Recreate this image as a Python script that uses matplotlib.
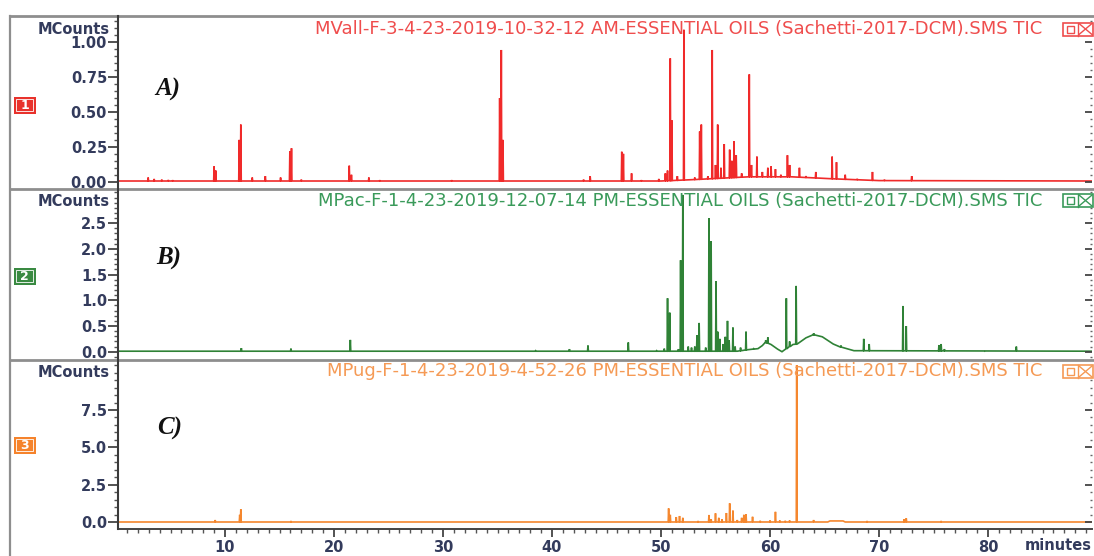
import numpy as np
import matplotlib
matplotlib.use("Agg")
import matplotlib.pyplot as plt
from matplotlib.ticker import MultipleLocator, FixedLocator, FormatStrFormatter
from matplotlib.patches import Rectangle
from matplotlib.lines import Line2D

# ---------------- data ----------------
titles = [
    "MVall-F-3-4-23-2019-10-32-12 AM-ESSENTIAL OILS (Sachetti-2017-DCM).SMS TIC",
    "MPac-F-1-4-23-2019-12-07-14 PM-ESSENTIAL OILS (Sachetti-2017-DCM).SMS TIC",
    "MPug-F-1-4-23-2019-4-52-26 PM-ESSENTIAL OILS (Sachetti-2017-DCM).SMS TIC",
]
panel_letters = ["A)", "B)", "C)"]
panel_numbers = ["1", "2", "3"]
x_ticks = [10, 20, 30, 40, 50, 60, 70, 80]

# Panel A: peak retention times (min) and apex intensities (MCounts)
rt_a = [2.95, 3.5, 4.2, 4.8, 5.2, 9.0, 9.15, 11.3, 11.45, 12.5, 13.7, 15.1, 15.95, 16.1,
        17.0, 21.4, 21.6, 23.2, 24.2, 30.8, 35.2, 35.35, 35.5, 42.9, 43.5, 46.4, 46.55,
        47.3, 48.2, 49.8, 50.4, 50.6, 50.85, 51.0, 51.5, 52.1, 53.1, 53.55, 53.7, 54.3,
        54.7, 55.0, 55.2, 55.5, 55.8, 56.3, 56.5, 56.7, 56.9, 57.4, 58.1, 58.3, 58.8,
        59.3, 59.8, 60.1, 60.5, 61.0, 61.6, 61.8, 62.7, 63.3, 64.2, 65.7, 66.1, 66.9,
        68.0, 69.4, 70.5, 73.0]
h_a = [0.03, 0.02, 0.015, 0.012, 0.01, 0.11, 0.08, 0.30, 0.41, 0.03, 0.04, 0.03, 0.22, 0.24,
       0.015, 0.115, 0.05, 0.03, 0.01, 0.01, 0.60, 0.945, 0.30, 0.015, 0.04, 0.215, 0.20,
       0.06, 0.01, 0.02, 0.06, 0.08, 0.885, 0.44, 0.04, 1.09, 0.03, 0.36, 0.41, 0.04,
       0.945, 0.12, 0.41, 0.10, 0.27, 0.23, 0.15, 0.29, 0.19, 0.06, 0.77, 0.12, 0.18,
       0.07, 0.10, 0.11, 0.09, 0.05, 0.19, 0.12, 0.10, 0.04, 0.07, 0.18, 0.14, 0.05,
       0.02, 0.07, 0.015, 0.04]
base_t_a = [0.0, 50.0, 53.0, 58.0, 62.0, 66.0, 70.0, 89.6]
base_v_a = [0.005, 0.005, 0.015, 0.035, 0.035, 0.02, 0.008, 0.005]

# Panel B
rt_b = [11.5, 16.05, 21.5, 30.6, 38.5, 41.6, 43.3, 46.1, 47.0, 48.1, 49.6, 50.3, 50.6, 50.8,
        51.6, 51.8, 52.0, 52.5, 52.8, 53.1, 53.3, 53.5, 54.1, 54.4, 54.6, 55.05, 55.2,
        55.4, 55.7, 55.9, 56.1, 56.25, 56.6, 56.8, 57.3, 57.8, 58.5, 59.6, 59.8, 61.5,
        61.8, 62.4, 64.0, 66.5, 68.6, 69.1, 72.2, 72.5, 75.5, 75.7, 76.0, 79.7, 82.6]
h_b = [0.07, 0.06, 0.23, 0.01, 0.02, 0.05, 0.12, 0.01, 0.18, 0.01, 0.02, 0.06, 1.04, 0.76,
       0.05, 1.78, 3.05, 0.10, 0.08, 0.10, 0.32, 0.56, 0.08, 2.60, 2.15, 1.37, 0.39,
       0.25, 0.15, 0.29, 0.60, 0.22, 0.47, 0.10, 0.08, 0.39, 0.06, 0.22, 0.28, 1.04,
       0.20, 1.28, 0.36, 0.12, 0.25, 0.15, 0.89, 0.50, 0.13, 0.15, 0.05, 0.01, 0.10]
base_t_b = [0.0, 57.0, 58.0, 58.9, 59.3, 59.6, 60.1, 60.7, 61.1, 62.1, 62.5, 63.3, 64.0,
            64.8, 65.8, 66.5, 67.7, 89.6]
base_v_b = [0.01, 0.01, 0.04, 0.06, 0.12, 0.18, 0.14, 0.05, 0.0, 0.14, 0.15, 0.27, 0.33,
            0.29, 0.15, 0.09, 0.02, 0.01]

# Panel C
rt_c = [9.1, 11.35, 11.45, 16.05, 50.7, 50.85, 51.4, 51.7, 52.0, 53.4, 54.4, 54.6, 55.0,
        55.3, 55.6, 56.0, 56.3, 56.6, 57.0, 57.4, 57.6, 57.8, 58.4, 59.1, 60.0, 60.5,
        60.9, 61.4, 61.8, 62.45, 64.0, 68.9, 72.3, 72.5, 75.7]
h_c = [0.15, 0.50, 0.87, 0.08, 0.93, 0.50, 0.35, 0.42, 0.30, 0.08, 0.49, 0.20, 0.60,
       0.30, 0.20, 0.62, 1.27, 0.78, 0.15, 0.30, 0.50, 0.55, 0.37, 0.10, 0.12, 0.70,
       0.12, 0.10, 0.12, 10.5, 0.15, 0.05, 0.20, 0.27, 0.08]
base_t_c = [0.0, 65.3, 65.5, 66.7, 66.9, 89.6]
base_v_c = [0.02, 0.02, 0.09, 0.09, 0.02, 0.02]

# ---------------- styling ----------------
W, H = 1094, 556
line_cols = ["#f02a2a", "#2f8236", "#f5872e"]
title_cols = ["#ef4d4d", "#3a9a5a", "#f59a55"]
box_cols = ["#e8322c", "#3a8a42", "#f5832c"]
navy = "#333b5c"
SANS = "DejaVu Sans"
SERIF = "Liberation Serif"

def fy(y):
    return 1 - y / H

def fx(x):
    return x / W

def trace(rt, h, bt, bv, w=0.04):
    pts = list(zip(bt, bv))
    for t, v in zip(rt, h):
        b = float(np.interp(t, bt, bv))
        pts += [(t - w, b), (t, v), (t + w, b)]
    pts.sort(key=lambda p: p[0])
    arr = np.array(pts)
    return arr[:, 0], arr[:, 1]

fig = plt.figure(figsize=(W / 100, H / 100), dpi=100)

ax_left, ax_right = 117.5, 1092
x0 = (ax_left - 116) / 10.9
x1 = (ax_right - 116) / 10.9

panels = [
    dict(top=17.5, bot=187, ylim=(-0.038, 1.178), major=[0, 0.25, 0.5, 0.75, 1.0], minor=0.05,
         fmt="%.2f", data=(rt_a, h_a, base_t_a, base_v_a)),
    dict(top=190, bot=358.5, ylim=(-0.132, 3.146), major=[0, 0.5, 1.0, 1.5, 2.0, 2.5], minor=0.1,
         fmt="%.1f", data=(rt_b, h_b, base_t_b, base_v_b)),
    dict(top=361.5, bot=529.3, ylim=(-0.468, 10.74), major=[0, 2.5, 5.0, 7.5], minor=0.5,
         fmt="%.1f", data=(rt_c, h_c, base_t_c, base_v_c)),
]

TICK_FS = 10.5

axes = []
for i, p in enumerate(panels):
    ax = fig.add_axes([fx(ax_left), fy(p["bot"]), fx(ax_right - ax_left), (p["bot"] - p["top"]) / H])
    xs, ys = trace(*p["data"])
    ax.plot(xs, ys, color=line_cols[i], lw=1.2, solid_joinstyle="miter")
    ax.set_xlim(x0, x1)
    ax.set_ylim(*p["ylim"])
    for s in ["top", "right", "left", "bottom"]:
        ax.spines[s].set_visible(False)
    ax.yaxis.set_major_locator(FixedLocator(p["major"]))
    ax.yaxis.set_minor_locator(MultipleLocator(p["minor"]))
    ax.yaxis.set_major_formatter(FormatStrFormatter(p["fmt"]))
    ax.tick_params(axis="y", which="major", direction="out", length=7, width=1.3,
                   color="#444444", pad=0.5, labelsize=TICK_FS, labelcolor=navy)
    ax.tick_params(axis="y", which="minor", direction="out", length=3, width=1.0,
                   color="#555555")
    for lab in ax.get_yticklabels():
        lab.set_fontweight("bold")
        lab.set_fontfamily(SANS)
    axr = ax.twinx()
    axr.set_ylim(*p["ylim"])
    for s in ["top", "right", "left", "bottom"]:
        axr.spines[s].set_visible(False)
    axr.yaxis.set_major_locator(FixedLocator(p["major"]))
    axr.yaxis.set_minor_locator(MultipleLocator(p["minor"]))
    axr.tick_params(axis="y", which="major", direction="in", length=5, width=1.3,
                    color="#444444", labelright=False)
    axr.tick_params(axis="y", which="minor", direction="in", length=1.5, width=1.0,
                    color="#666666")
    axr.set_xticks([])
    if i < 2:
        ax.set_xticks([])
    else:
        ax.spines["bottom"].set_visible(True)
        ax.spines["bottom"].set_color("#444444")
        ax.spines["bottom"].set_linewidth(1.4)
        ax.xaxis.set_major_locator(FixedLocator(x_ticks))
        ax.xaxis.set_minor_locator(MultipleLocator(1))
        ax.tick_params(axis="x", which="major", direction="out", length=6, width=1.3,
                       color="#444444", pad=1.5, labelsize=TICK_FS, labelcolor=navy)
        ax.tick_params(axis="x", which="minor", direction="out", length=3, width=1.0,
                       color="#555555")
        for lab in ax.get_xticklabels():
            lab.set_fontweight("bold")
            lab.set_fontfamily(SANS)
    axes.append(ax)

# ---------------- overlay in pixel coordinates ----------------
ov = fig.add_axes([0, 0, 1, 1], facecolor="none")
ov.set_xlim(0, W)
ov.set_ylim(H, 0)
ov.axis("off")

for y in [16, 188.5, 360]:
    ov.add_line(Line2D([10, W], [y, y], color="#8e8e8e", lw=2.0))
ov.add_line(Line2D([10, 10], [16, H], color="#8e8e8e", lw=1.6))
ov.add_line(Line2D([ax_left, ax_left], [16, 529.3], color="#3a3a3a", lw=1.5))

mc_y = [30, 201.5, 372.5]
title_y = [29, 200.5, 371.5]
num_y = [105, 276, 445]
let_xy = [(168, 89), (169, 258), (170, 428)]

for i in range(3):
    ov.text(110, mc_y[i], "MCounts", ha="right", va="center", fontsize=TICK_FS,
            fontweight="bold", color=navy, family=SANS)
    ov.text(1042, title_y[i], titles[i], ha="right", va="center", fontsize=13,
            color=title_cols[i], family=SANS)
    ov.add_patch(Rectangle((13.5, num_y[i] - 8.5), 22, 17, facecolor=box_cols[i], edgecolor="none"))
    ov.add_patch(Rectangle((16, num_y[i] - 6), 17, 12, facecolor="none", edgecolor="white", lw=0.6))
    ov.text(24.5, num_y[i] + 0.5, panel_numbers[i], ha="center", va="center", fontsize=9,
            color="white", fontweight="bold", family=SANS)
    ov.text(let_xy[i][0], let_xy[i][1], panel_letters[i], ha="center", va="center", fontsize=18,
            fontweight="bold", fontstyle="italic", color="#111111", family=SERIF)
    yc = title_y[i]
    c = title_cols[i]
    ov.add_patch(Rectangle((1063, yc - 6.5), 30, 13, facecolor="white", edgecolor=c, lw=1.2))
    ov.add_line(Line2D([1077.5, 1077.5], [yc - 6.5, yc + 6.5], color=c, lw=1.0))
    ov.add_patch(Rectangle((1066.5, yc - 3.5), 7, 7, facecolor="none", edgecolor=c, lw=1.0))
    ov.add_line(Line2D([1079, 1092], [yc - 5.5, yc + 5.5], color=c, lw=1.0))
    ov.add_line(Line2D([1079, 1092], [yc + 5.5, yc - 5.5], color=c, lw=1.0))

ov.text(1092, 546, "minutes", ha="right", va="center", fontsize=TICK_FS, fontweight="bold",
        color=navy, family=SANS)

fig.savefig("out.png", dpi=100)
